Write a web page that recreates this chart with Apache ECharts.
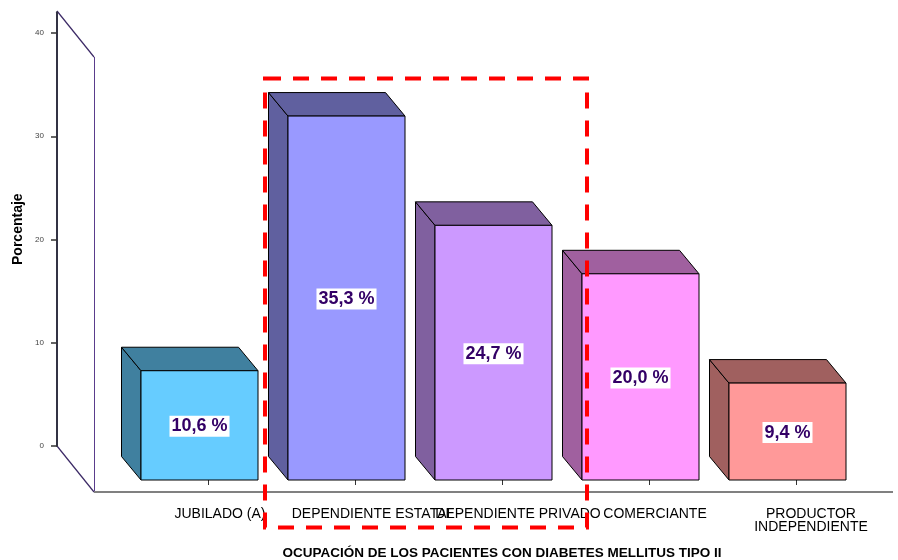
<!DOCTYPE html>
<html>
<head>
<meta charset="utf-8">
<script src="https://cdn.jsdelivr.net/npm/echarts@6/dist/echarts.min.js"></script>
<style>
  html, body { margin: 0; padding: 0; background: #fff; }
  #main { width: 898px; height: 560px; }
</style>
</head>
<body>
<div id="main"></div>
<script>
var categories = ['JUBILADO (A)', 'DEPENDIENTE ESTATAL', 'DEPENDIENTE PRIVADO', 'COMERCIANTE', 'PRODUCTOR\nINDEPENDIENTE']
var percentages = [10.6, 35.3, 24.7, 20.0, 9.4]
var yTicks = [0, 10, 20, 30, 40]

var frontColors = ['#66CCFF', '#9999FF', '#CC99FF', '#FF99FF', '#FF9999']
var darkColors = ['#40809F', '#60609F', '#80609F', '#A0609F', '#A0605F']
// the original labels are not quite centred on their ticks
var labelNudge = [12, 18, 16, 6, 15]

var FONT = "'Liberation Sans', Arial, sans-serif"
var BAR_W = 117
var SHIFT = -8.5 // front face sits a bit left of the tick
var DX = -19.5
var DY = -23.5

var myChart = echarts.init(document.getElementById('main'))

function renderBar (params, api) {
  var i = params.dataIndex
  var base = api.coord([api.value(0), 0])
  var top = api.coord([api.value(0), api.value(1)])
  var x0 = base[0] + SHIFT - BAR_W / 2
  var x1 = x0 + BAR_W
  var yb = base[1]
  var yt = top[1]
  var line = { stroke: '#000', lineWidth: 1 }
  return {
    type: 'group',
    children: [
      {
        type: 'polygon',
        shape: { points: [[x0, yt], [x0 + DX, yt + DY], [x0 + DX, yb + DY], [x0, yb]] },
        style: Object.assign({ fill: darkColors[i] }, line)
      },
      {
        type: 'polygon',
        shape: { points: [[x0, yt], [x1, yt], [x1 + DX, yt + DY], [x0 + DX, yt + DY]] },
        style: Object.assign({ fill: darkColors[i] }, line)
      },
      {
        type: 'rect',
        shape: { x: x0, y: yt, width: BAR_W, height: yb - yt },
        style: Object.assign({ fill: frontColors[i] }, line)
      },
      {
        type: 'text',
        x: (x0 + x1) / 2,
        y: (yt + yb) / 2 + 1,
        style: {
          text: api.value(1).toFixed(1).replace('.', ',') + ' %',
          fill: '#330066',
          font: 'bold 18px ' + FONT,
          align: 'center',
          verticalAlign: 'middle',
          backgroundColor: '#fff',
          padding: [2, 2, 1, 2]
        }
      }
    ]
  }
}

var option = {
  animation: false,
  textStyle: { fontFamily: FONT },
  grid: [
    // back wall, carries the y ticks
    { left: 57, width: 10, top: 12.35, bottom: 114, outerBoundsMode: 'none' },
    // front plane of the bars
    { left: 134.5, right: 28.5, top: 47, bottom: 80, outerBoundsMode: 'none' }
  ],
  xAxis: [
    { gridIndex: 0, type: 'value', show: false },
    {
      gridIndex: 1,
      type: 'category',
      data: categories.map(function (c, i) {
        return { value: c, textStyle: { padding: [0, 0, 0, labelNudge[i] * 2] } }
      }),
      offset: 12,
      axisLine: { show: false },
      axisTick: { show: true, length: 5, alignWithLabel: true, lineStyle: { color: '#333' } },
      axisLabel: {
        interval: 0,
        hideOverlap: false,
        margin: 16,
        fontSize: 14,
        lineHeight: 12.5,
        color: '#000',
        fontFamily: FONT
      },
      name: 'OCUPACIÓN DE LOS PACIENTES CON DIABETES MELLITUS TIPO II',
      nameLocation: 'middle',
      nameGap: 54,
      nameTextStyle: { fontWeight: 'bold', fontSize: 13.5, color: '#000', fontFamily: FONT }
    }
  ],
  yAxis: [
    {
      gridIndex: 0,
      type: 'value',
      min: 0,
      max: 42,
      axisLine: { show: true, lineStyle: { color: '#333344', width: 2 } },
      axisTick: { show: true, length: 6, customValues: yTicks, lineStyle: { color: '#333', width: 1.5 } },
      axisLabel: { customValues: yTicks, margin: 13, fontSize: 8, color: '#444', fontFamily: FONT },
      splitLine: { show: false },
      name: 'Porcentaje',
      nameLocation: 'middle',
      nameGap: 32,
      nameTextStyle: { fontWeight: 'bold', fontSize: 14, color: '#000', fontFamily: FONT }
    },
    { gridIndex: 1, type: 'value', min: 0, max: 42, show: false }
  ],
  series: [
    {
      type: 'custom',
      xAxisIndex: 1,
      yAxisIndex: 1,
      renderItem: renderBar,
      data: percentages.map(function (v, i) { return [i, v] })
    }
  ],
  graphic: [
    // side wall of the chart box
    { type: 'line', shape: { x1: 57, y1: 11, x2: 94, y2: 57 }, style: { stroke: '#3c2a66', lineWidth: 1.2 } },
    { type: 'line', shape: { x1: 57, y1: 446, x2: 94, y2: 492 }, style: { stroke: '#3c2a66', lineWidth: 1.2 } },
    { type: 'line', shape: { x1: 94.5, y1: 57, x2: 94.5, y2: 492 }, style: { stroke: '#5a3c8c', lineWidth: 1 } },
    // floor line
    { type: 'line', shape: { x1: 94, y1: 492, x2: 893, y2: 492 }, style: { stroke: '#808080', lineWidth: 2 } },
    // highlight box
    {
      type: 'rect',
      z: 100,
      shape: { x: 265, y: 78.5, width: 322, height: 449 },
      style: { fill: null, stroke: '#ff0000', lineWidth: 4, lineDash: [16, 12] }
    }
  ]
}
myChart.setOption(option)
</script>
</body>
</html>
